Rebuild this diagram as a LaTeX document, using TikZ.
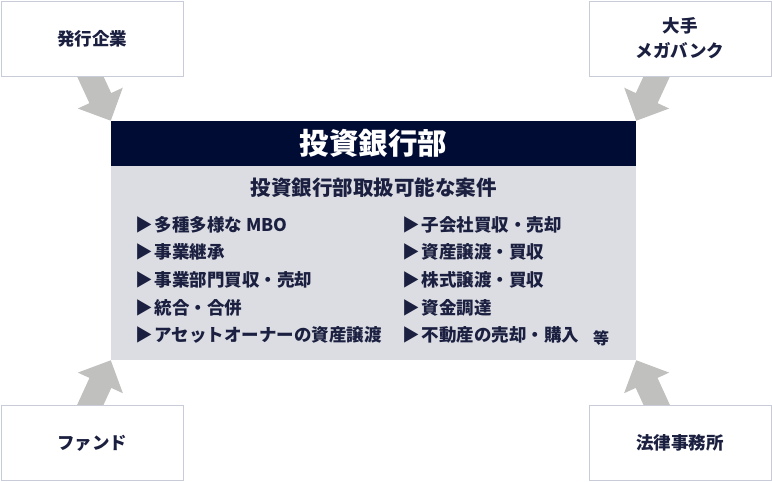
\documentclass[tikz,border=0pt]{standalone}
\usepackage{fontspec}
\setmainfont{Noto Sans CJK JP}
\usetikzlibrary{arrows.meta,
                backgrounds}
\definecolor{navy}{HTML}{000C34}
\definecolor{ink}{HTML}{1B2040}
\definecolor{panel}{HTML}{DCDDE3}
\definecolor{frame}{HTML}{C8CCD8}
\definecolor{shaft}{HTML}{C0C0BE}
\newcommand{\bulletmark}{▶\hspace{2pt}}

\begin{document}
\begin{tikzpicture}%
    [x=1pt, y=-1pt,
     box/.style={draw=frame, fill=white, minimum width=182pt, minimum height=75pt,
                 text=ink, align=center, font=\bfseries\fontsize{17.5}{25}\selectfont},
     item/.style={anchor=west, inner sep=0pt, text=ink, font=\bfseries\fontsize{17.5}{20}\selectfont},
     fat/.style={draw=shaft, line width=24pt, -{Triangle[width=48pt, length=25pt]}}]
    \useasboundingbox (0, 0) rectangle (772, 482);

    \node[box] (1) at (92, 38.5) {発行企業};
    \node[box] (2) at (680, 38.5) {大手\\メガバンク};
    \node[box] (3) at (92, 443) {ファンド};
    \node[box] (4) at (680, 443) {法律事務所};

    \node[fill=navy, text=white, inner sep=0pt, minimum width=525pt, minimum height=45pt,
          font=\bfseries\fontsize{29.5}{32}\selectfont] (5) at (373.5, 143.5) {投資銀行部};
    \node[fill=panel, inner sep=0pt, minimum width=525pt, minimum height=194pt] (6) at (373.5, 263) {};
    \node[text=ink, font=\bfseries\fontsize{20.5}{24}\selectfont] (7) at (373.5, 188) {投資銀行部取扱可能な案件};

    \node[item] (l1) at (135, 225) {\bulletmark 多種多様な MBO};
    \node[item] (l2) at (135, 252) {\bulletmark 事業継承};
    \node[item] (l3) at (135, 280) {\bulletmark 事業部門買収・売却};
    \node[item] (l4) at (135, 308) {\bulletmark 統合・合併};
    \node[item] (l5) at (135, 335) {\bulletmark アセットオーナーの資産譲渡};

    \node[item] (r1) at (402, 225) {\bulletmark 子会社買収・売却};
    \node[item] (r2) at (402, 252) {\bulletmark 資産譲渡・買収};
    \node[item] (r3) at (402, 280) {\bulletmark 株式譲渡・買収};
    \node[item] (r4) at (402, 308) {\bulletmark 資金調達};
    \node[item] (r5) at (402, 335) {\bulletmark 不動産の売却・購入};
    \node[item, font=\bfseries\fontsize{16}{18}\selectfont] (etc) at (593, 338) {等};

    \begin{scope}[on background layer]
        \draw[fat] ([xshift=-6pt, yshift=9pt]1.south) -- (5.north west);
        \draw[fat] ([xshift=-19pt, yshift=9pt]2.south) -- (5.north east);
        \draw[fat] ([xshift=-6pt, yshift=-9pt]3.north) -- (6.south west);
        \draw[fat] ([xshift=-19pt, yshift=-9pt]4.north) -- (6.south east);
    \end{scope}
\end{tikzpicture}
\end{document}
